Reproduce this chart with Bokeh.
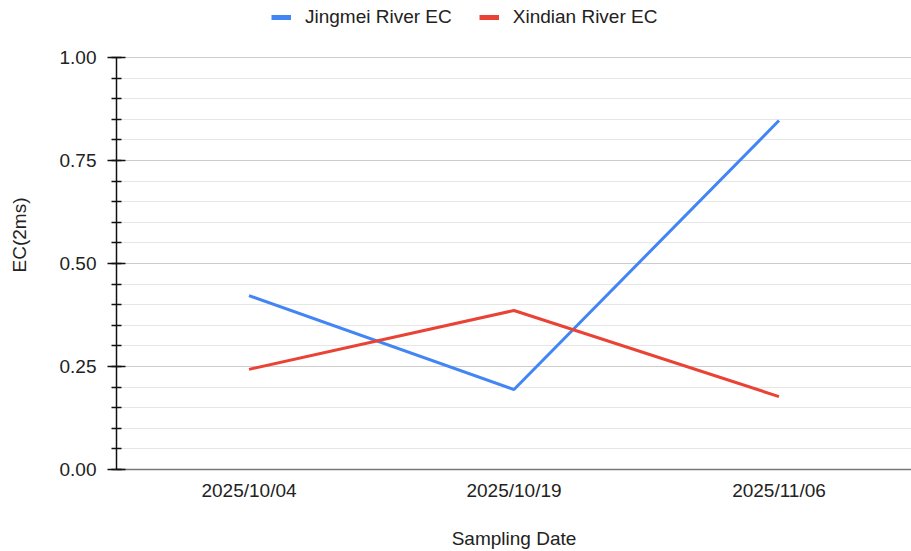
from bokeh.plotting import figure
from bokeh.models import (Legend, LegendItem, SingleIntervalTicker, NumeralTickFormatter)
from bokeh.embed import file_html
from bokeh.resources import INLINE

dates = ["2025/10/04", "2025/10/19", "2025/11/06"]
jingmei_ec = [0.422, 0.194, 0.847]
xindian_ec = [0.243, 0.386, 0.177]
series_names = ["Jingmei River EC", "Xindian River EC"]
colors = ["#4285F4", "#EA4335"]
y_label = "EC(2ms)"
x_label = "Sampling Date"

FONT = "Liberation Sans"
FS = "19px"

W, H = 911, 551
TOP_SPACE = 57       # room above the 1.00 line, kept inside the frame for the legend
BOTTOM = 82
frame_h = H - BOTTOM
y_top = 1.0 * frame_h / (frame_h - TOP_SPACE)

p = figure(x_range=dates, y_range=(0, y_top), width=W, height=H,
           output_backend="svg", toolbar_location=None,
           min_border_left=116, min_border_right=0, min_border_top=0,
           min_border_bottom=BOTTOM)
p.outline_line_color = None

r1 = p.line(dates, jingmei_ec, line_color=colors[0], line_width=3)
r2 = p.line(dates, xindian_ec, line_color=colors[1], line_width=3)

# legend swatches (thicker than the data lines); NaN data draws nothing in the plot
d1 = p.line(x=dates[:2], y=[float("nan")] * 2, line_color=colors[0], line_width=5)
d2 = p.line(x=dates[:2], y=[float("nan")] * 2, line_color=colors[1], line_width=5)

legend = Legend(items=[LegendItem(label=series_names[0], renderers=[d1]),
                       LegendItem(label=series_names[1], renderers=[d2])],
                orientation="horizontal", location=(155, frame_h - 28),
                border_line_color=None, background_fill_alpha=0,
                label_text_font=FONT, label_text_font_size=FS,
                label_text_color="#222222", glyph_width=20, glyph_height=18,
                spacing=27, label_standoff=14, padding=0, margin=0)
p.add_layout(legend)

# y axis
p.yaxis.bounds = (0, 1.0)
p.yaxis.ticker = SingleIntervalTicker(interval=0.25, num_minor_ticks=5)
p.yaxis.formatter = NumeralTickFormatter(format="0.00")
p.yaxis.axis_line_color = "#111111"
p.yaxis.axis_line_width = 1.5
p.yaxis.major_tick_line_color = "#111111"
p.yaxis.major_tick_line_width = 1.5
p.yaxis.minor_tick_line_color = "#111111"
p.yaxis.minor_tick_line_width = 1.5
p.yaxis.major_tick_in = 9
p.yaxis.major_tick_out = 9
p.yaxis.minor_tick_in = 5
p.yaxis.minor_tick_out = 5
p.yaxis.major_label_standoff = 11
p.yaxis.major_label_text_font = FONT
p.yaxis.major_label_text_font_size = FS
p.yaxis.major_label_text_color = "#222222"
p.yaxis.axis_label = y_label
p.yaxis.axis_label_text_font = FONT
p.yaxis.axis_label_text_font_size = FS
p.yaxis.axis_label_text_font_style = "normal"
p.yaxis.axis_label_text_color = "#222222"
p.yaxis.axis_label_standoff = 27

# x axis
p.xaxis.axis_line_color = "#777777"
p.xaxis.axis_line_width = 1.5
p.xaxis.major_tick_line_color = None
p.xaxis.minor_tick_line_color = None
p.xaxis.major_tick_out = 0
p.xaxis.major_tick_in = 0
p.xaxis.major_label_standoff = 10
p.xaxis.major_label_text_font = FONT
p.xaxis.major_label_text_font_size = FS
p.xaxis.major_label_text_color = "#222222"
p.xaxis.axis_label = x_label
p.xaxis.axis_label_text_font = FONT
p.xaxis.axis_label_text_font_size = FS
p.xaxis.axis_label_text_font_style = "normal"
p.xaxis.axis_label_text_color = "#222222"
p.xaxis.axis_label_standoff = 24

# grid
p.xgrid.grid_line_color = None
p.ygrid.bounds = (0, 1.0)
p.ygrid.grid_line_color = "#cccccc"
p.ygrid.grid_line_width = 1
p.ygrid.minor_grid_line_color = "#e6e6e6"
p.ygrid.minor_grid_line_width = 1

open("out.html", "w").write(file_html(p, INLINE))
